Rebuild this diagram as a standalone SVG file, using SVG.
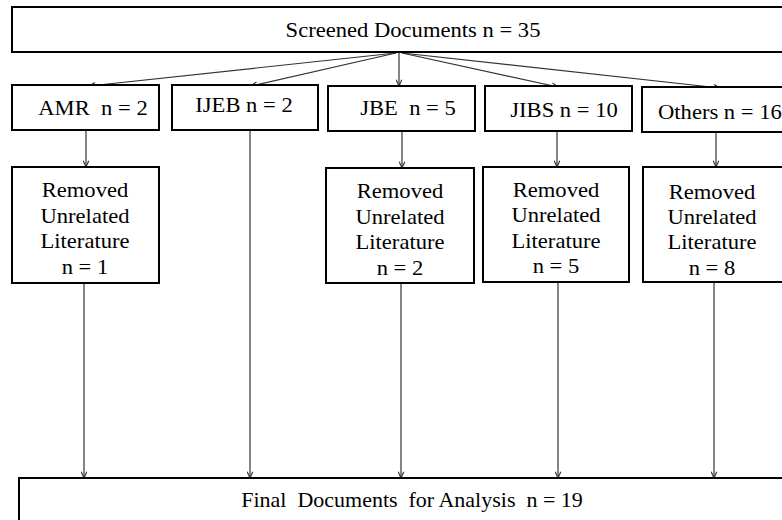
<svg xmlns="http://www.w3.org/2000/svg" width="782" height="520" viewBox="0 0 782 520">
  <style>
    .box { fill: #fff; stroke: #000; stroke-width: 2; }
    .lbl { font-family: "Liberation Serif", "Times New Roman", serif; font-size: 20px; fill: #000; text-anchor: middle; white-space: pre; }
    .edge { fill: none; stroke: #333; stroke-width: 1.2; marker-end: url(#arrow); }
  </style>
  <defs>
    <marker id="arrow" viewBox="0 0 10 10" refX="10" refY="5" markerWidth="7" markerHeight="7" markerUnits="userSpaceOnUse" orient="auto">
      <path d="M1,1 L10,5 L1,9" fill="none" stroke="#333" stroke-width="1.6"/>
    </marker>
  </defs>

  <rect width="782" height="520" fill="#fff"/>

  <!-- connectors -->
  <g id="connectors">
    <line class="edge" x1="396" y1="53" x2="89" y2="86"/>
    <line class="edge" x1="396" y1="53" x2="251" y2="86"/>
    <line class="edge" x1="399" y1="53" x2="399" y2="86"/>
    <line class="edge" x1="402" y1="53" x2="558" y2="87"/>
    <line class="edge" x1="402" y1="53" x2="720" y2="88"/>

    <line class="edge" x1="86" y1="130" x2="86" y2="167"/>
    <line class="edge" x1="402" y1="131" x2="402" y2="168"/>
    <line class="edge" x1="557" y1="131" x2="557" y2="167"/>
    <line class="edge" x1="716" y1="132" x2="716" y2="167"/>

    <line class="edge" x1="84" y1="283" x2="84" y2="478"/>
    <line class="edge" x1="250" y1="130" x2="250" y2="478"/>
    <line class="edge" x1="401" y1="283" x2="401" y2="478"/>
    <line class="edge" x1="558" y1="282" x2="558" y2="478"/>
    <line class="edge" x1="714" y1="282" x2="714" y2="478"/>
  </g>

  <!-- top -->
  <g id="screened">
    <rect class="box" x="12" y="7" width="800" height="45"/>
    <text class="lbl" transform="translate(413,37) scale(1.13,1)">Screened Documents n = 35</text>
  </g>

  <!-- journals -->
  <g id="amr">
    <rect class="box" x="12" y="85" width="147" height="45"/>
    <text class="lbl" transform="translate(93,115) scale(1.13,1)">AMR  n = 2</text>
  </g>
  <g id="ijeb">
    <rect class="box" x="172" y="85" width="146" height="45"/>
    <text class="lbl" transform="translate(244,112) scale(1.13,1)">IJEB n = 2</text>
  </g>
  <g id="jbe">
    <rect class="box" x="328" y="86" width="147" height="45"/>
    <text class="lbl" transform="translate(408,115) scale(1.13,1)">JBE  n = 5</text>
  </g>
  <g id="jibs">
    <rect class="box" x="485" y="86" width="147" height="45"/>
    <text class="lbl" transform="translate(564,117) scale(1.13,1)">JIBS n = 10</text>
  </g>
  <g id="others">
    <rect class="box" x="642" y="87" width="160" height="45"/>
    <text class="lbl" style="text-anchor:start" transform="translate(658,119) scale(1.13,1)">Others n = 16</text>
  </g>

  <!-- removals -->
  <g id="amr-removed">
    <rect class="box" x="12" y="167" width="147" height="116"/>
    <text class="lbl" transform="translate(85,197) scale(1.13,1)">Removed</text>
    <text class="lbl" transform="translate(85,223) scale(1.13,1)">Unrelated</text>
    <text class="lbl" transform="translate(85,248) scale(1.13,1)">Literature</text>
    <text class="lbl" transform="translate(85,274) scale(1.13,1)">n = 1</text>
  </g>
  <g id="jbe-removed">
    <rect class="box" x="326" y="168" width="148" height="115"/>
    <text class="lbl" transform="translate(400,198) scale(1.13,1)">Removed</text>
    <text class="lbl" transform="translate(400,224) scale(1.13,1)">Unrelated</text>
    <text class="lbl" transform="translate(400,249) scale(1.13,1)">Literature</text>
    <text class="lbl" transform="translate(400,275) scale(1.13,1)">n = 2</text>
  </g>
  <g id="jibs-removed">
    <rect class="box" x="483" y="167" width="146" height="115"/>
    <text class="lbl" transform="translate(556,197) scale(1.13,1)">Removed</text>
    <text class="lbl" transform="translate(556,222) scale(1.13,1)">Unrelated</text>
    <text class="lbl" transform="translate(556,248) scale(1.13,1)">Literature</text>
    <text class="lbl" transform="translate(556,273) scale(1.13,1)">n = 5</text>
  </g>
  <g id="others-removed">
    <rect class="box" x="643" y="167" width="160" height="115"/>
    <text class="lbl" transform="translate(712,199) scale(1.13,1)">Removed</text>
    <text class="lbl" transform="translate(712,224) scale(1.13,1)">Unrelated</text>
    <text class="lbl" transform="translate(712,249) scale(1.13,1)">Literature</text>
    <text class="lbl" transform="translate(712,275) scale(1.13,1)">n = 8</text>
  </g>

  <!-- result -->
  <g id="final">
    <rect class="box" x="19" y="478" width="800" height="60"/>
    <text class="lbl" transform="translate(412,507) scale(1.1,1)">Final  Documents  for Analysis  n = 19</text>
  </g>
</svg>
